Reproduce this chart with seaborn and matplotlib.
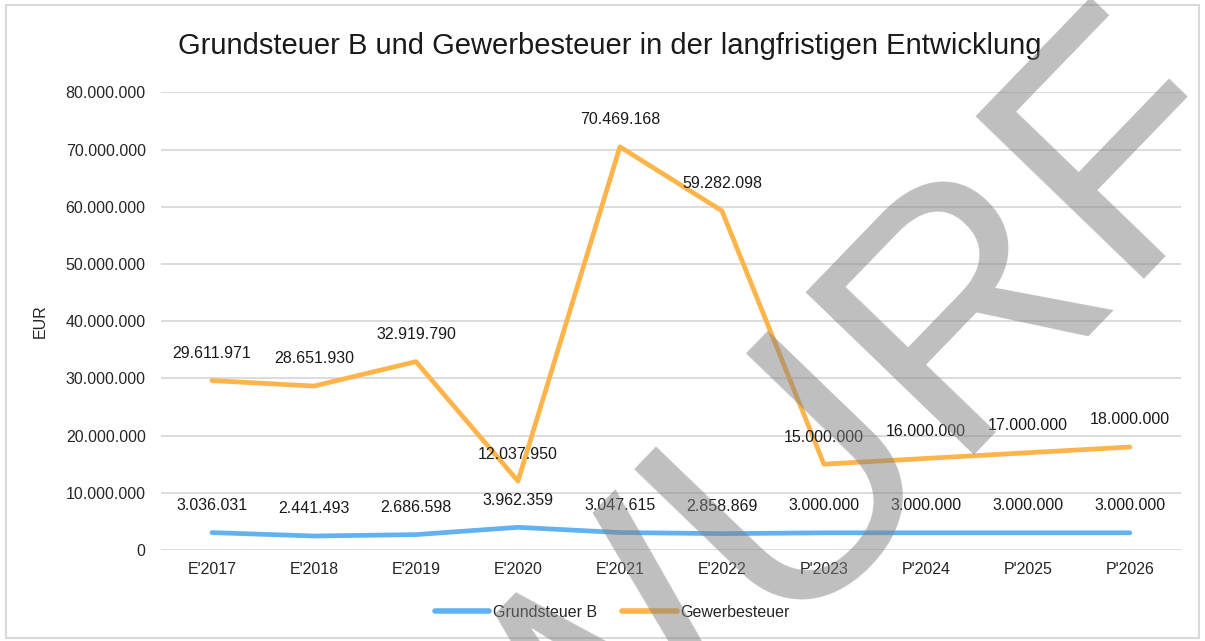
import matplotlib
matplotlib.use("Agg")
import matplotlib.pyplot as plt
import seaborn as sns
import pandas as pd
from matplotlib.patches import Rectangle

# data
jahre = ["E'2017", "E'2018", "E'2019", "E'2020", "E'2021", "E'2022",
         "P'2023", "P'2024", "P'2025", "P'2026"]
grundsteuer_b = [3036031, 2441493, 2686598, 3962359, 3047615, 2858869,
                 3000000, 3000000, 3000000, 3000000]
gewerbesteuer = [29611971, 28651930, 32919790, 12037950, 70469168, 59282098,
                 15000000, 16000000, 17000000, 18000000]
y_ticks = [0, 10000000, 20000000, 30000000, 40000000, 50000000, 60000000, 70000000, 80000000]

df = pd.DataFrame({
    "Jahr": jahre * 2,
    "EUR": grundsteuer_b + gewerbesteuer,
    "Serie": ["Grundsteuer B"] * len(jahre) + ["Gewerbesteuer"] * len(jahre),
})

def de_fmt(v):
    return f"{v:,.0f}".replace(",", ".")

sns.set_theme(style="white")
plt.rcParams["font.family"] = ["Liberation Sans", "DejaVu Sans"]

colors = {"Grundsteuer B": "#62B2F2", "Gewerbesteuer": "#FDB44B"}

fig = plt.figure(figsize=(12.05, 6.41), dpi=100)
ax = fig.add_axes([0.1336, 0.142, 0.8464, 0.714])

sns.lineplot(data=df, x="Jahr", y="EUR", hue="Serie", palette=colors,
             sort=False, linewidth=3.4, ax=ax, legend=False)

# data labels
for serie, werte in [("Grundsteuer B", grundsteuer_b), ("Gewerbesteuer", gewerbesteuer)]:
    for i, v in enumerate(werte):
        ax.annotate(de_fmt(v), (i, v), xytext=(0, 19.5), textcoords="offset points",
                    ha="center", va="center", fontsize=11.5, color="#1a1a1a")

ax.set_xlim(-0.5, len(jahre) - 0.5)
ax.set_ylim(0, 80000000)
ax.set_yticks(y_ticks)
ax.set_yticklabels([de_fmt(t) for t in y_ticks])
ax.grid(axis="y", color="#d9d9d9", linewidth=1.3)
ax.set_axisbelow(True)
for s in ax.spines.values():
    s.set_visible(False)
ax.tick_params(axis="both", length=0, labelsize=11.5, labelcolor="#262626")
ax.tick_params(axis="y", pad=11)
ax.tick_params(axis="x", pad=9)
ax.set_xlabel("")
ax.set_ylabel("EUR", fontsize=11.5, color="#262626")
ax.yaxis.set_label_coords(-0.111, 0.5)

fig.text(0.506, 0.928, "Grundsteuer B und Gewerbesteuer in der langfristigen Entwicklung",
         ha="center", va="center", fontsize=21, color="#1a1a1a")

handles = [plt.Line2D([], [], color=colors["Grundsteuer B"], lw=4),
           plt.Line2D([], [], color=colors["Gewerbesteuer"], lw=4)]
fig.legend(handles, ["Grundsteuer B", "Gewerbesteuer"], loc="center",
           bbox_to_anchor=(0.508, 0.045), ncol=2, frameon=False, fontsize=11.5,
           handlelength=3.4, handletextpad=0.2, columnspacing=1.6)

# chart border
fig.patches.append(Rectangle((0.005, 0.005), 0.99, 0.987, transform=fig.transFigure,
                             fill=False, edgecolor="#d9d9d9", linewidth=1.5))

# draft watermark
fig.text(1.046, 0.798, "ENTWURF", rotation=46, rotation_mode="anchor",
         ha="right", va="baseline", fontsize=244, color="#808080", alpha=0.5,
         zorder=10)

fig.savefig("out.png", dpi=100)
